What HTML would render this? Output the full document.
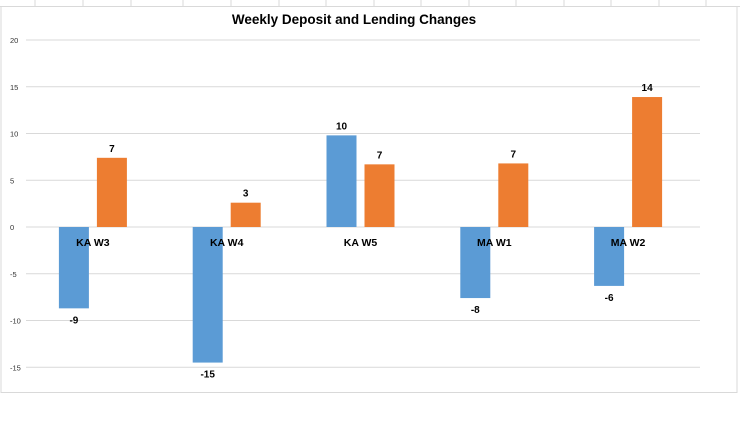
<!DOCTYPE html>
<html><head><meta charset="utf-8"><style>
body{margin:0;background:#fff;font-family:"Liberation Sans",Arial,sans-serif}
svg text{font-family:"Liberation Sans",Arial,sans-serif}
</style></head><body>
<svg id="c" width="750" height="416" xmlns="http://www.w3.org/2000/svg">
<g stroke="#d9d9d9" stroke-width="1">
<line x1="0" y1="6.5" x2="740" y2="6.5"/>
<line x1="35" y1="0" x2="35" y2="6"/><line x1="83" y1="0" x2="83" y2="6"/><line x1="131" y1="0" x2="131" y2="6"/><line x1="183" y1="0" x2="183" y2="6"/><line x1="231" y1="0" x2="231" y2="6"/><line x1="279" y1="0" x2="279" y2="6"/><line x1="326" y1="0" x2="326" y2="6"/><line x1="374" y1="0" x2="374" y2="6"/><line x1="421" y1="0" x2="421" y2="6"/><line x1="469" y1="0" x2="469" y2="6"/><line x1="516" y1="0" x2="516" y2="6"/><line x1="564" y1="0" x2="564" y2="6"/><line x1="611" y1="0" x2="611" y2="6"/><line x1="659" y1="0" x2="659" y2="6"/><line x1="706" y1="0" x2="706" y2="6"/>
</g>
<rect x="1" y="6.5" width="736" height="386" fill="none" stroke="#d9d9d9"/>
<text x="354" y="24" text-anchor="middle" font-size="13.5" font-weight="bold" fill="#000">Weekly Deposit and Lending Changes</text>
<g id="grid"></g><g id="bars"></g><g id="labels"></g>
</svg>
<script>
const categories=["KA W3","KA W4","KA W5","MA W1","MA W2"];
const deposits=[-8.7,-14.5,9.8,-7.6,-6.3];
const lending=[7.4,2.6,6.7,6.8,13.9];
const depositLabels=["-9","-15","10","-8","-6"];
const lendingLabels=["7","3","7","7","14"];
const ticks=[20,15,10,5,0,-5,-10,-15];
const NS="http://www.w3.org/2000/svg";
const x0=26,x1=695,yTop=40,yZero=227;
const y=v=>yZero-(v)*(yZero-yTop)/20;
const catW=(x1-x0)/categories.length;
const cx=i=>x0+catW*(i+0.5);
function mk(t,a,p){const e=document.createElementNS(NS,t);for(const k in a)e.setAttribute(k,a[k]);p.appendChild(e);return e;}
const g=document.getElementById('grid'),b=document.getElementById('bars'),l=document.getElementById('labels');
ticks.forEach(t=>{
 const ln=mk('line',{x1:x0,x2:700,y1:y(t),y2:y(t),stroke:'#d9d9d9','stroke-width':1},g);
 
 
 const tx=mk('text',{x:10,y:y(t)+3,'font-size':7.5,fill:'#333'},g);
 tx.textContent=t;
 
 
});
const bw=30;
categories.forEach((c,i)=>{
 const m=cx(i);
 [[deposits,'#5b9bd5',m-34,depositLabels,'deposit-bar'],[lending,'#ed7d31',m+4,lendingLabels,'lending-bar']].forEach(([arr,col,bx,labs,nm])=>{
  const v=arr[i];
  const r=mk('rect',{x:bx,y:Math.min(y(v),yZero),width:bw,height:Math.abs(y(v)-yZero),fill:col},b);
  
  
  const t=mk('text',{x:bx+bw/2,y:v>=0?y(v)-6:y(v)+15,'text-anchor':'middle','font-size':10,'font-weight':'bold',fill:'#000'},l);
  t.textContent=labs[i];
  
  
 });
 const ct=mk('text',{x:m,y:246,'text-anchor':'middle','font-size':10.5,'font-weight':'bold',fill:'#000'},l);
 ct.textContent=c;
 
 
});
</script>
</body></html>
